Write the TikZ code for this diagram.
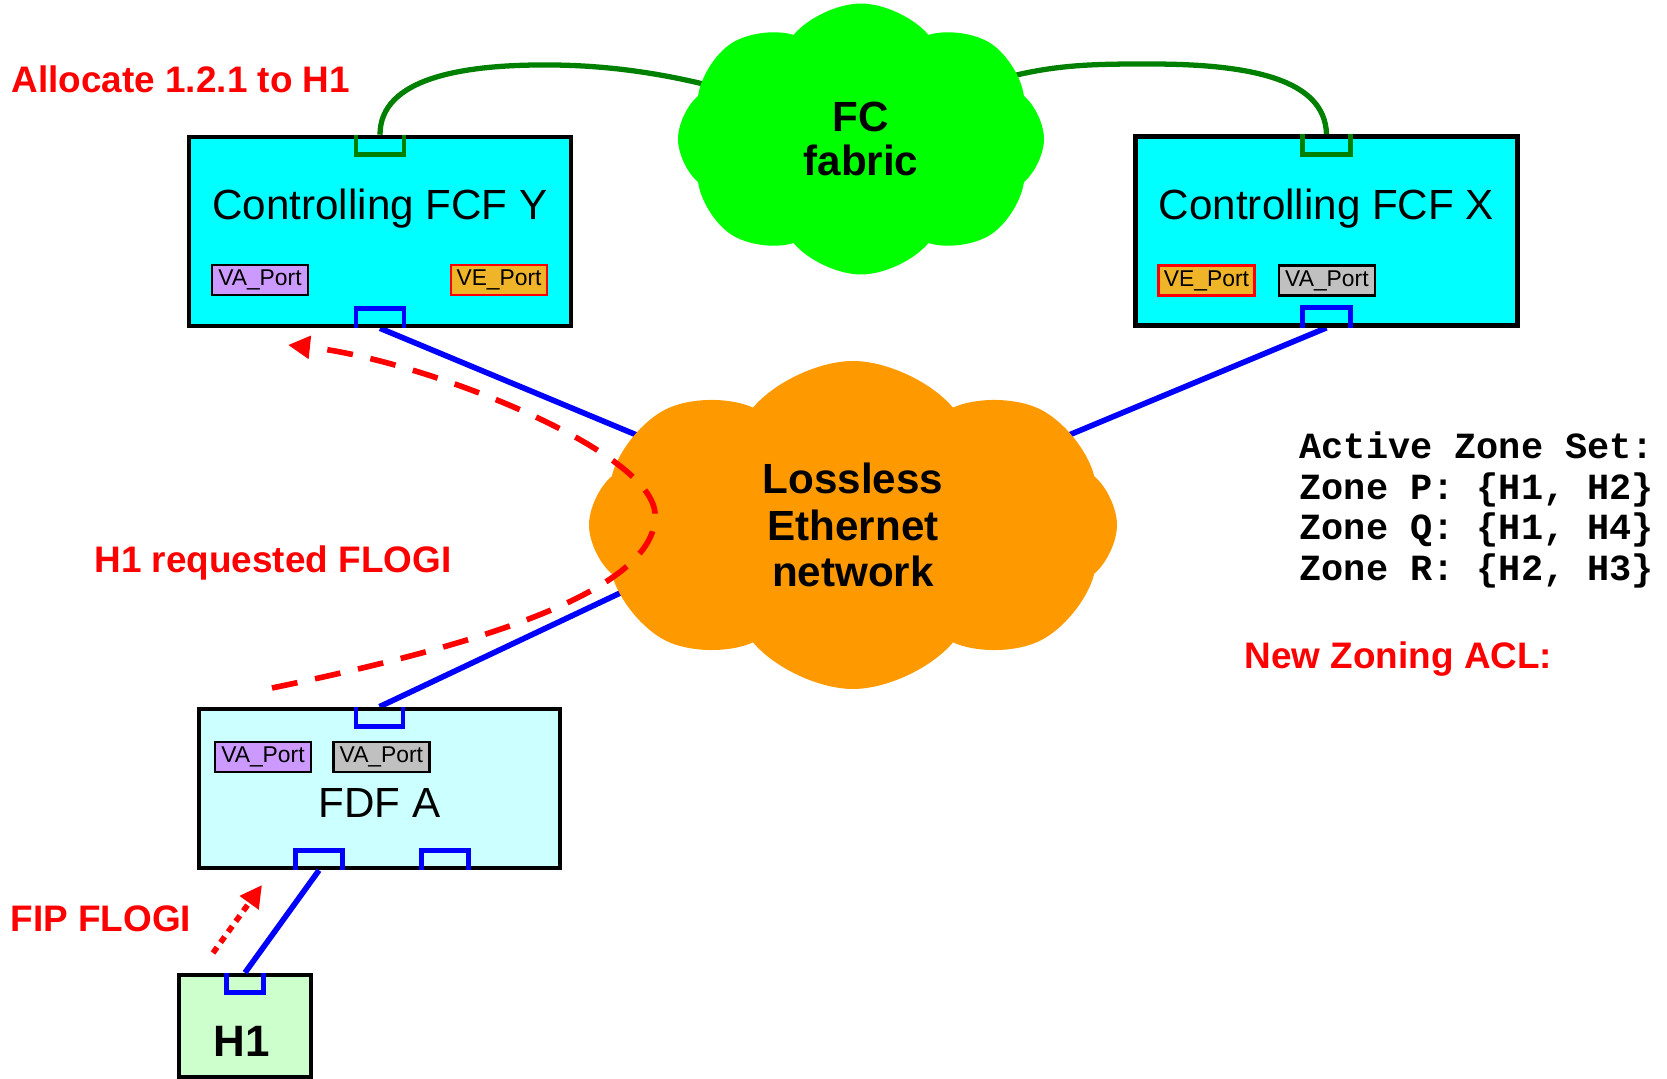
\documentclass[tikz,border=0pt]{standalone}
\usepackage{fontspec}
\setmainfont{Liberation Sans}
\newfontfamily\zonefont{Liberation Mono}
\usepackage{tikz}
\usetikzlibrary{positioning,shapes,arrows.meta,backgrounds}
\definecolor{fcfcyan}{RGB}{0,255,255}
\definecolor{fdfcyan}{RGB}{204,255,255}
\definecolor{hostgreen}{RGB}{204,255,204}
\definecolor{vapurple}{RGB}{204,153,255}
\definecolor{vegold}{RGB}{240,180,40}
\definecolor{vagrey}{RGB}{192,192,192}
\definecolor{ethorange}{RGB}{255,153,0}
\definecolor{fcgreen}{RGB}{0,255,0}
\definecolor{linkgreen}{RGB}{0,128,0}
\tikzstyle{sw}=[%
      rectangle, draw=black, line width=1.3pt, inner sep=0pt
]
\tikzstyle{pt}=[%
      rectangle, draw=black, line width=0.7pt, inner sep=0pt,
      minimum width=0.96cm, minimum height=0.30cm, font=\fontsize{6.5}{7.5}\selectfont
]
\tikzstyle{port}=[%
      rectangle, inner sep=0pt, outer sep=0pt, minimum width=0.48cm, minimum height=0.2cm
]
\tikzstyle{cl}=[%
      cloud, cloud puffs=8, cloud puff arc=100, inner sep=0pt, align=center,
      font=\fontsize{12}{13.2}\selectfont\bfseries
]
\tikzstyle{title}=[%
      inner sep=0pt, font=\fontsize{12}{14}\selectfont
]
\tikzstyle{msg}=[%
      text=red, inner sep=0pt, font=\fontsize{10.5}{12}\selectfont\bfseries
]

\begin{document}
\begin{tikzpicture}[
    >={Triangle[length=0.22cm,width=0.22cm]},
    elink/.style={draw=blue, line width=1.6pt},
    fclink/.style={draw=linkgreen, line width=1.5pt},
    uport/.style={line width=1.35pt},
]
    \useasboundingbox (0,0) rectangle (16.67,10.79);
    % clouds
    \node[cl, fill=fcgreen, minimum width=3.66cm, minimum height=2.71cm] (fc) at (8.61,9.40) {FC\\[-0.5pt]fabric};
    \node[cl, fill=ethorange, minimum width=5.28cm, minimum height=3.28cm] (eth) at (8.53,5.54) {Lossless\\Ethernet\\network};
    % switches and host
    \node[sw, fill=fcfcyan, minimum width=3.82cm, minimum height=1.89cm] (fcfy) at (3.80,8.475) {};
    \node[sw, fill=fcfcyan, minimum width=3.82cm, minimum height=1.89cm] (fcfx) at (13.265,8.48) {};
    \node[sw, fill=fdfcyan, minimum width=3.61cm, minimum height=1.59cm] (fdfa) at (3.795,2.905) {};
    \node[sw, fill=hostgreen, minimum width=1.32cm, minimum height=1.02cm] (h1) at (2.45,0.53) {};
    \node[title, anchor=base] (ty) at ([yshift=0.115cm]fcfy.center) {Controlling FCF Y};
    \node[title, anchor=base] (tx) at ([yshift=0.115cm]fcfx.center) {Controlling FCF X};
    \node[title, anchor=base] (ta) at ([yshift=-0.295cm]fdfa.center) {FDF A};
    \node[title, anchor=base, font=\fontsize{12.5}{14}\selectfont\bfseries] (th) at ([xshift=-0.03cm,yshift=-0.31cm]h1.center) {H1};
    % port labels
    \node[pt, fill=vapurple] (vay) [above right = 0.32cm and 0.24cm of fcfy.south west] {VA\_Port};
    \node[pt, draw=red, fill=vegold] (vey) [above left = 0.32cm and 0.25cm of fcfy.south east] {VE\_Port};
    \node[pt, draw=red, fill=vegold] (vex) [above right = 0.31cm and 0.24cm of fcfx.south west] {VE\_Port};
    \node[pt, fill=vagrey] (vax) [right = 0.22cm of vex] {VA\_Port};
    \node[pt, fill=vapurple] (vaa) [below right = 0.34cm and 0.17cm of fdfa.north west] {VA\_Port};
    \node[pt, fill=vagrey] (vab) [right = 0.2cm of vaa] {VA\_Port};
    % ports
    \node[port] (gy) [below = 0pt of fcfy.north] {};
    \node[port] (by) [above = 0pt of fcfy.south] {};
    \node[port] (gx) [below = 0pt of fcfx.north] {};
    \node[port] (bx) [above = 0pt of fcfx.south] {};
    \node[port, minimum width=0.47cm] (ba) [below = 0pt of fdfa.north] {};
    \node[port, minimum width=0.47cm] (pa1) [above left = 0pt and 0.37cm of fdfa.south] {};
    \node[port, minimum width=0.47cm] (pa2) [above right = 0pt and 0.42cm of fdfa.south] {};
    \node[port, minimum width=0.37cm] (ph) [below = 0pt of h1.north] {};
    \draw[uport, linkgreen] (gy.north west) |- (gy.south east) -- (gy.north east);
    \draw[uport, linkgreen] (gx.north west) |- (gx.south east) -- (gx.north east);
    \draw[uport, blue] (by.south west) |- (by.north east) -- (by.south east);
    \draw[uport, blue] (bx.south west) |- (bx.north east) -- (bx.south east);
    \draw[uport, blue] (ba.north west) |- (ba.south east) -- (ba.north east);
    \draw[uport, blue] (pa1.south west) |- (pa1.north east) -- (pa1.south east);
    \draw[uport, blue] (pa2.south west) |- (pa2.north east) -- (pa2.south east);
    \draw[uport, blue] (ph.north west) |- (ph.south east) -- (ph.north east);
    % links
    \begin{scope}[on background layer]
    \path (by.south) edge[elink] (eth.center)
          (bx.south) edge[elink] (eth.center)
          (ba.north) edge[elink] ([yshift=0.42cm]eth.center);
    \draw[fclink] (gy.north) .. controls (3.80,10.0) and (4.6,10.15) .. (5.53,10.14)
                  .. controls (6.5,10.13) and (7.5,9.9) .. (fc.center);
    \draw[fclink] (gx.north) .. controls (13.25,10.0) and (12.5,10.15) .. (11.5,10.15)
                  .. controls (10.6,10.15) and (10.0,10.15) .. (fc.center);
    \end{scope}
    \path (ph.north) edge[elink] (pa1.south);
    % messages
    \coordinate (rqfrom) at (2.72,3.91);
    \coordinate (rqto) at (2.88,7.34);
    \draw[->, red, line width=1.6pt, dash pattern=on 0.26cm off 0.18cm]
        (rqfrom) .. controls (4.6,4.3) and (6.6,4.85) .. (6.55,5.66)
        .. controls (6.5,6.3) and (4.2,7.2) .. (rqto);
    \coordinate (fipfrom) at (2.13,1.26);
    \coordinate (fipto) at (2.62,1.94);
    \draw[->, red, line width=1.6pt, dash pattern=on 0.07cm off 0.06cm] (fipfrom) -- (fipto);
    \node[msg, anchor=base west] (alloc) at (0.11,9.86) {Allocate 1.2.1 to H1};
    \node[msg, anchor=base] (req) at (2.73,5.06) {H1 requested FLOGI};
    \node[msg, anchor=base west] (fip) at (0.10,1.47) {FIP FLOGI};
    \node[msg, anchor=base west] (acl) at (12.44,4.10) {New Zoning ACL:};
    \node[inner sep=0pt, anchor=west, align=left, font=\zonefont\bfseries\fontsize{10.5}{11.5}\selectfont] (zones) at (12.99,5.69)
        {Active Zone Set:\\Zone P: \{H1, H2\}\\Zone Q: \{H1, H4\}\\Zone R: \{H2, H3\}};
\end{tikzpicture}
\end{document}
